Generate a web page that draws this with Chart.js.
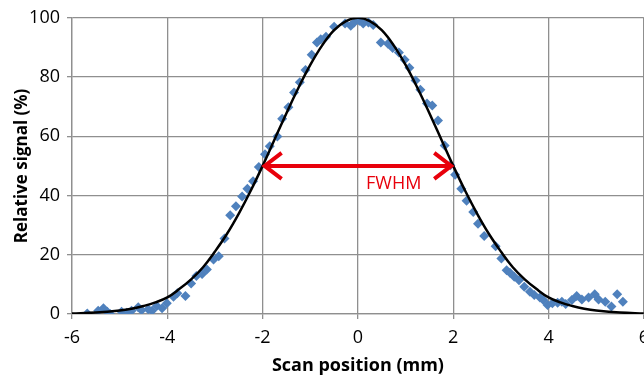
<!DOCTYPE html>
<html>
<head>
<meta charset="utf-8">
<script src="https://cdn.jsdelivr.net/npm/chart.js@4/dist/chart.umd.min.js"></script>
<style>
  html, body { margin: 0; padding: 0; background: #fff; overflow: hidden; }
  .wrap { width: 657px; height: 380px; }
</style>
</head>
<body>
<div class="wrap"><canvas id="myChart"></canvas></div>
<script>
// measured points
const scanX = [
  -5.68, -5.45, -5.34, -5.26, -5.20, -4.96, -4.85, -4.75, -4.61, -4.54,
  -4.40, -4.32, -4.22, -4.11, -4.01, -3.87, -3.79, -3.62, -3.50, -3.39,
  -3.27, -3.17, -3.03, -2.92, -2.80, -2.68, -2.56, -2.43, -2.32, -2.20,
  -2.08, -1.95, -1.85, -1.69, -1.59, -1.46, -1.34, -1.22, -1.10, -0.97,
  -0.86, -0.78, -0.67, -0.50, -0.27, -0.15, -0.08, 0.03, 0.11, 0.22,
  0.32, 0.48, 0.63, 0.73, 0.86, 0.98, 1.08, 1.21, 1.31, 1.45,
  1.56, 1.68, 1.82, 1.94, 2.04, 2.17, 2.28, 2.42, 2.52, 2.65,
  2.89, 3.01, 3.12, 3.19, 3.28, 3.38, 3.49, 3.61, 3.70, 3.82,
  3.89, 3.98, 4.08, 4.19, 4.28, 4.36, 4.49, 4.59, 4.70, 4.84,
  4.97, 5.05, 5.19, 5.32, 5.44, 5.56
];
const signal = [
  0.2, 1.1, 1.9, 0.8, 0.0, 0.8, 0.4, 1.1, 2.3, 1.3,
  1.6, 1.1, 2.7, 1.9, 3.6, 5.8, 7.0, 6.1, 10.3, 12.8,
  13.5, 15.0, 18.4, 19.5, 25.5, 33.3, 36.4, 39.7, 42.3, 44.8,
  49.6, 53.9, 56.6, 59.9, 65.9, 69.8, 74.8, 78.2, 82.4, 87.5,
  91.7, 92.8, 93.6, 97.0, 98.1, 97.3, 98.4, 99.0, 98.1, 98.4,
  97.6, 91.7, 91.2, 89.8, 88.3, 85.8, 83.1, 78.8, 75.7, 71.1,
  70.4, 65.3, 56.9, 50.2, 47.0, 42.3, 38.2, 34.4, 30.5, 26.3,
  22.9, 18.7, 14.8, 13.9, 12.6, 11.4, 9.2, 7.5, 6.4, 5.6,
  4.7, 3.0, 3.6, 3.8, 4.1, 3.4, 4.7, 6.1, 4.9, 5.6,
  6.7, 4.9, 4.1, 2.5, 6.7, 4.1
];

// fitted curve
const fitX = [
  -6, -5.5, -5, -4.75, -4.5, -4.25, -4, -3.75, -3.5, -3.25, -3, -2.75, -2.5, -2.25,
  -2, -1.75, -1.5, -1.25, -1, -0.75, -0.5, -0.25, 0, 0.25, 0.5, 0.75, 1, 1.25,
  1.5, 1.75, 2, 2.25, 2.5, 2.75, 3, 3.25, 3.5, 3.75, 4, 4.25, 4.5, 4.75, 5, 5.5, 6
];
const fitY = [
  0.2, 0.5, 1.2, 1.8, 2.7, 3.9, 5.6, 8.4, 11.7, 15.8, 21.1, 27.0, 33.9, 41.6,
  50.0, 58.9, 67.8, 76.3, 84.1, 90.7, 95.8, 98.9, 100, 98.9, 95.8, 90.7, 84.1, 76.3,
  67.8, 58.9, 50.0, 41.6, 33.9, 27.0, 21.1, 15.8, 11.7, 8.4, 5.6, 3.9, 2.7, 1.8, 1.2, 0.5, 0.2
];

const xTicks = [-6, -4, -2, 0, 2, 4, 6];
const yTicks = [0, 20, 40, 60, 80, 100];

// FWHM marker
const fwhmFrom = -2;
const fwhmTo = 2;
const fwhmLevel = 50;
const fwhmLabel = 'FWHM';
const fwhmLabelAt = [0.75, 44];

const red = '#e8000b';
const gridColor = '#8f8f8f';

const fwhmArrow = {
  id: 'fwhmArrow',
  afterDatasetsDraw(chart) {
    const ctx = chart.ctx;
    const sx = chart.scales.x, sy = chart.scales.y;
    const x1 = sx.getPixelForValue(fwhmFrom);
    const x2 = sx.getPixelForValue(fwhmTo);
    const y = sy.getPixelForValue(fwhmLevel);
    ctx.save();
    ctx.strokeStyle = red;
    ctx.lineWidth = 4;
    ctx.beginPath();
    ctx.moveTo(x1 + 2, y);
    ctx.lineTo(x2 - 2, y);
    ctx.stroke();
    ctx.beginPath();
    ctx.moveTo(x1 + 19, y - 13);
    ctx.lineTo(x1 + 2, y);
    ctx.lineTo(x1 + 19, y + 13);
    ctx.moveTo(x2 - 19, y - 13);
    ctx.lineTo(x2 - 2, y);
    ctx.lineTo(x2 - 19, y + 13);
    ctx.stroke();
    ctx.fillStyle = red;
    ctx.font = '18px "Open Sans"';
    ctx.textAlign = 'center';
    ctx.textBaseline = 'middle';
    ctx.fillText(fwhmLabel, sx.getPixelForValue(fwhmLabelAt[0]), sy.getPixelForValue(fwhmLabelAt[1]));
    ctx.restore();
  }
};

new Chart(document.getElementById('myChart'), {
  type: 'scatter',
  data: {
    datasets: [{
      label: 'Fit',
      data: fitX.map((x, i) => ({ x: x, y: fitY[i] })),
      showLine: true,
      borderColor: '#000',
      borderWidth: 2.5,
      pointRadius: 0,
      tension: 0.4,
      order: 0
    }, {
      label: 'Measured',
      data: scanX.map((x, i) => ({ x: x, y: signal[i] })),
      pointStyle: 'rectRot',
      pointRadius: 5,
      pointBorderWidth: 0,
      backgroundColor: '#4f81bd',
      borderColor: '#4f81bd',
      order: 1
    }]
  },
  options: {
    responsive: true,
    maintainAspectRatio: false,
    animation: false,
    layout: { padding: { top: 17, right: 2, left: 0, bottom: 0 } },
    plugins: {
      legend: { display: false },
      tooltip: { enabled: false }
    },
    scales: {
      x: {
        type: 'linear',
        min: -6,
        max: 6,
        afterBuildTicks: s => { s.ticks = xTicks.map(v => ({ value: v })); },
        afterFit: s => { s.height = 66; },
        grid: { color: gridColor, lineWidth: 1.3, tickLength: 5 },
        border: { color: gridColor, width: 1.3 },
        ticks: { color: '#000', padding: 8, font: { family: 'Open Sans', size: 18 }, maxRotation: 0 },
        title: {
          display: true,
          text: 'Scan position (mm)',
          color: '#000',
          font: { family: 'Open Sans', size: 18, weight: 'bold' },
          padding: { top: 0, bottom: 3 }
        }
      },
      y: {
        min: 0,
        max: 100,
        afterBuildTicks: s => { s.ticks = yTicks.map(v => ({ value: v })); },
        afterFit: s => { s.width = 72; },
        grid: { color: gridColor, lineWidth: 1.3, tickLength: 5 },
        border: { color: gridColor, width: 1.3 },
        ticks: { color: '#000', padding: 7, font: { family: 'Open Sans', size: 18 } },
        title: {
          display: true,
          text: 'Relative signal (%)',
          color: '#000',
          font: { family: 'Open Sans', size: 17, weight: 'bold' },
          padding: { top: 12, bottom: 0 }
        }
      }
    }
  },
  plugins: [fwhmArrow]
});
</script>
</body>
</html>
